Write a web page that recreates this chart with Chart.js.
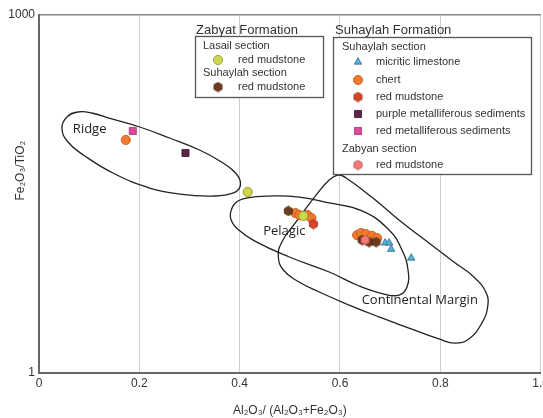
<!DOCTYPE html>
<html>
<head>
<meta charset="utf-8">
<script src="https://cdn.jsdelivr.net/npm/chart.js@4.4.1/dist/chart.umd.min.js"></script>
<style>
  html, body { margin: 0; padding: 0; background: #fff; overflow: hidden; }
  #wrap { width: 552px; height: 418px; }
</style>
</head>
<body>
<div id="wrap"><canvas id="chart"></canvas></div>
<script>
// sample points (x = Al2O3/(Al2O3+Fe2O3), y = Fe2O3/TiO2)
var lasailRedX = [0.416, 0.527];
var lasailRedY = [32.9, 20.7];
var zabyatSuhRedX = [0.497, 0.644, 0.658, 0.672];
var zabyatSuhRedY = [22.8, 13.0, 12.5, 12.5];
var micriticX = [0.690, 0.698, 0.702, 0.742];
var micriticY = [12.3, 12.3, 10.9, 9.2];
var chertX = [0.173, 0.511, 0.519, 0.535, 0.543, 0.634, 0.642, 0.652, 0.664, 0.674];
var chertY = [89.7, 21.9, 21.1, 21.1, 19.9, 14.3, 14.9, 14.6, 14.1, 13.5];
var suhRedX = [0.547];
var suhRedY = [17.7];
var purpleMetX = [0.292];
var purpleMetY = [69.8];
var redMetX = [0.187];
var redMetY = [106.7];
var zabyanRedX = [0.650];
var zabyanRedY = [13.0];

// field boundaries
var ridgeX = [0.0457, 0.0557, 0.0775, 0.1054, 0.1451, 0.2008, 0.2604, 0.3201, 0.3638, 0.3936, 0.4016, 0.3877, 0.3439, 0.2803, 0.2207, 0.1511, 0.0915, 0.0577];
var ridgeY = [113, 139.7, 153.9, 150.9, 134.5, 115.2, 93.2, 73.9, 58.6, 46.5, 37.6, 32.3, 30.4, 31.6, 35.5, 46.5, 65.8, 86.3];
var pelagicX = [0.3817, 0.3917, 0.4155, 0.4592, 0.5189, 0.5785, 0.6441, 0.6978, 0.7237, 0.7356, 0.7336, 0.7177, 0.6879, 0.6382, 0.5785, 0.4990, 0.4294, 0.3956, 0.3837];
var pelagicY = [21.9, 26.6, 29.3, 30.4, 29.8, 26.6, 22.8, 15.8, 10.7, 7.30, 5.26, 4.50, 4.59, 5.36, 7.02, 9.38, 12.8, 16.1, 18.8];
var marginX = [0.5964, 0.6123, 0.6680, 0.7276, 0.7773, 0.8270, 0.8668, 0.8907, 0.8946, 0.8827, 0.8569, 0.8290, 0.7972, 0.7376, 0.6779, 0.6183, 0.5586, 0.5149, 0.4871, 0.4771, 0.4831, 0.5109, 0.5507, 0.5785];
var marginY = [45.6, 43.1, 28.7, 17.7, 12.3, 8.51, 6.38, 4.77, 3.64, 2.62, 1.93, 1.78, 1.93, 2.38, 2.95, 3.71, 4.77, 5.90, 7.30, 9.38, 12.3, 18.1, 30.4, 41.4];

var fieldNames = ['Ridge', 'Pelagic', 'Continental Margin'];
var fieldLabelX = [0.101, 0.489, 0.759];
var fieldLabelY = [110.9, 15.5, 4.09];

var xTicks = [0, 0.2, 0.4, 0.6, 0.8, 1];
var yTicks = [1, 1000];

function pts(xs, ys) {
  return xs.map(function (x, i) { return { x: x, y: ys[i] }; });
}

// wrap the outline so the spline is smooth where it closes
function loop(xs, ys) {
  var p = pts(xs, ys);
  return [p[p.length - 1]].concat(p, [p[0], p[1]]);
}

function hexagon(fill, stroke) {
  var c = document.createElement('canvas');
  c.width = 11; c.height = 11;
  var g = c.getContext('2d');
  g.beginPath();
  for (var i = 0; i < 6; i++) {
    var a = -Math.PI / 2 + i * Math.PI / 3;
    g.lineTo(5.5 + 4.7 * Math.cos(a), 5.5 + 4.7 * Math.sin(a));
  }
  g.closePath();
  g.fillStyle = fill; g.fill();
  g.lineWidth = 0.8; g.strokeStyle = stroke; g.stroke();
  return c;
}

function marks(key, xs, ys, style, radius, fill, stroke, order) {
  return {
    key: key, data: pts(xs, ys), pointStyle: style, pointRadius: radius,
    backgroundColor: fill, borderColor: stroke, borderWidth: 0.8, order: order
  };
}

function outline(xs, ys) {
  var n = xs.length;
  return {
    data: loop(xs, ys), showLine: true, pointRadius: 0, tension: 0.45,
    borderColor: '#222', borderWidth: 1.3, fill: false, order: 10,
    segment: {
      borderColor: function (c) {
        return (c.p0DataIndex === 0 || c.p0DataIndex === n + 1) ? 'rgba(0,0,0,0)' : undefined;
      }
    }
  };
}

var datasets = [
  marks('zabyan', zabyanRedX, zabyanRedY, hexagon('#f07b77', '#b84a48'), 5, '#f07b77', '#b84a48', 1),
  marks('lasail', lasailRedX, lasailRedY, 'circle', 4.6, '#cdd94a', '#84902a', 2),
  marks('suhRed', suhRedX, suhRedY, hexagon('#d8442a', '#9c2a14'), 5, '#d8442a', '#9c2a14', 3),
  marks('purple', purpleMetX, purpleMetY, 'rect', 5, '#5c2446', '#3a1228', 3),
  marks('redMet', redMetX, redMetY, 'rect', 5, '#d94a9d', '#a33070', 3),
  marks('micritic', micriticX, micriticY, 'triangle', 4.3, '#53b1d6', '#2b6d8a', 4),
  marks('brown', zabyatSuhRedX, zabyatSuhRedY, hexagon('#6e3b20', '#4a2510'), 5, '#6e3b20', '#4a2510', 4),
  marks('chert', chertX, chertY, 'circle', 4.6, '#ee7b2f', '#c0581a', 5),
  outline(ridgeX, ridgeY),
  outline(pelagicX, pelagicY),
  outline(marginX, marginY)
];

var legendBoxes = [
  {
    title: 'Zabyat Formation', titleX: 196, titleY: 30, box: [195.5, 36.5, 128, 61],
    headX: 203, markX: 218, textX: 238,
    rows: [
      { head: 'Lasail section', y: 46 },
      { key: 'lasail', text: 'red mudstone', y: 60 },
      { head: 'Suhaylah section', y: 73 },
      { key: 'brown', text: 'red mudstone', y: 87 }
    ]
  },
  {
    title: 'Suhaylah Formation', titleX: 335, titleY: 30, box: [333.5, 37.5, 198, 137],
    headX: 342, markX: 358, textX: 376,
    rows: [
      { head: 'Suhaylah section', y: 47 },
      { key: 'micritic', text: 'micritic limestone', y: 62 },
      { key: 'chert', text: 'chert', y: 80 },
      { key: 'suhRed', text: 'red mudstone', y: 97 },
      { key: 'purple', text: 'purple metalliferous sediments', y: 114 },
      { key: 'redMet', text: 'red metalliferous sediments', y: 131 },
      { head: 'Zabyan section', y: 149 },
      { key: 'zabyan', text: 'red mudstone', y: 165 }
    ]
  }
];

var annotations = {
  id: 'annotations',
  afterDatasetsDraw: function (chart) {
    var ctx = chart.ctx, sx = chart.scales.x, sy = chart.scales.y;
    ctx.save();
    ctx.fillStyle = '#222';
    ctx.font = '13px "Open Sans", sans-serif';
    ctx.textAlign = 'center';
    ctx.textBaseline = 'middle';
    fieldNames.forEach(function (name, i) {
      ctx.fillText(name, sx.getPixelForValue(fieldLabelX[i]), sy.getPixelForValue(fieldLabelY[i]));
    });
    ctx.restore();
  },
  afterDraw: function (chart) {
    var ctx = chart.ctx;
    ctx.save();
    ctx.textBaseline = 'middle';
    ctx.textAlign = 'left';
    legendBoxes.forEach(function (lg) {
      ctx.fillStyle = '#333';
      ctx.font = '13px "Liberation Sans", Arial, sans-serif';
      ctx.fillText(lg.title, lg.titleX, lg.titleY);
      ctx.fillStyle = '#fff';
      ctx.fillRect(lg.box[0], lg.box[1], lg.box[2], lg.box[3]);
      ctx.strokeStyle = '#555';
      ctx.lineWidth = 1.3;
      ctx.strokeRect(lg.box[0], lg.box[1], lg.box[2], lg.box[3]);
      ctx.font = '11px "Liberation Sans", Arial, sans-serif';
      lg.rows.forEach(function (r) {
        ctx.fillStyle = '#333';
        if (r.head) {
          ctx.fillText(r.head, lg.headX, r.y);
          return;
        }
        ctx.fillText(r.text, lg.textX, r.y);
        var ds = chart.data.datasets.filter(function (d) { return d.key === r.key; })[0];
        if (ds.pointStyle instanceof HTMLCanvasElement) {
          ctx.drawImage(ds.pointStyle, lg.markX - ds.pointStyle.width / 2, r.y - ds.pointStyle.height / 2);
        } else {
          ctx.fillStyle = ds.backgroundColor;
          ctx.strokeStyle = ds.borderColor;
          ctx.lineWidth = ds.borderWidth;
          Chart.helpers.drawPoint(ctx, { pointStyle: ds.pointStyle, radius: ds.pointRadius, borderWidth: ds.borderWidth, rotation: 0 }, lg.markX, r.y);
        }
      });
    });
    ctx.restore();
  }
};

Chart.defaults.font.family = '"Liberation Sans", Arial, sans-serif';
Chart.defaults.color = '#333';

new Chart(document.getElementById('chart'), {
  type: 'scatter',
  data: { datasets: datasets },
  plugins: [annotations],
  options: {
    responsive: true,
    maintainAspectRatio: false,
    animation: false,
    devicePixelRatio: 1,
    layout: { padding: { top: 15, right: 10, left: 0, bottom: 0 } },
    plugins: { legend: { display: false }, tooltip: { enabled: false } },
    scales: {
      x: {
        type: 'linear', min: 0, max: 1,
        afterBuildTicks: function (s) { s.ticks = xTicks.map(function (v) { return { value: v }; }); },
        afterFit: function (s) { s.height = 45; },
        ticks: { padding: 3, font: { size: 12 }, color: '#333' },
        grid: { color: '#cfcfcf', drawTicks: false },
        border: { color: '#666', width: 2 },
        title: { display: true, text: 'Al\u2082O\u2083/ (Al\u2082O\u2083+Fe\u2082O\u2083)', font: { size: 12 }, color: '#333', padding: { top: 0, bottom: 0 } }
      },
      x2: {
        type: 'linear', position: 'top', min: 0, max: 1,
        afterFit: function (s) { s.height = 0; },
        ticks: { display: false },
        grid: { display: false, drawTicks: false },
        border: { color: '#888', width: 1.5 }
      },
      y: {
        type: 'logarithmic', min: 1, max: 1000,
        afterBuildTicks: function (s) { s.ticks = yTicks.map(function (v) { return { value: v }; }); },
        afterFit: function (s) { s.width = 39; },
        ticks: { padding: 4, font: { size: 12 }, color: '#333', callback: function (v) { return String(v); } },
        grid: { display: false, drawTicks: false },
        border: { color: '#666', width: 2 },
        title: { display: true, text: '              Fe\u2082O\u2083/TiO\u2082', font: { size: 12 }, color: '#333', padding: { top: 13, bottom: 0 } }
      }
    }
  }
});
</script>
</body>
</html>
